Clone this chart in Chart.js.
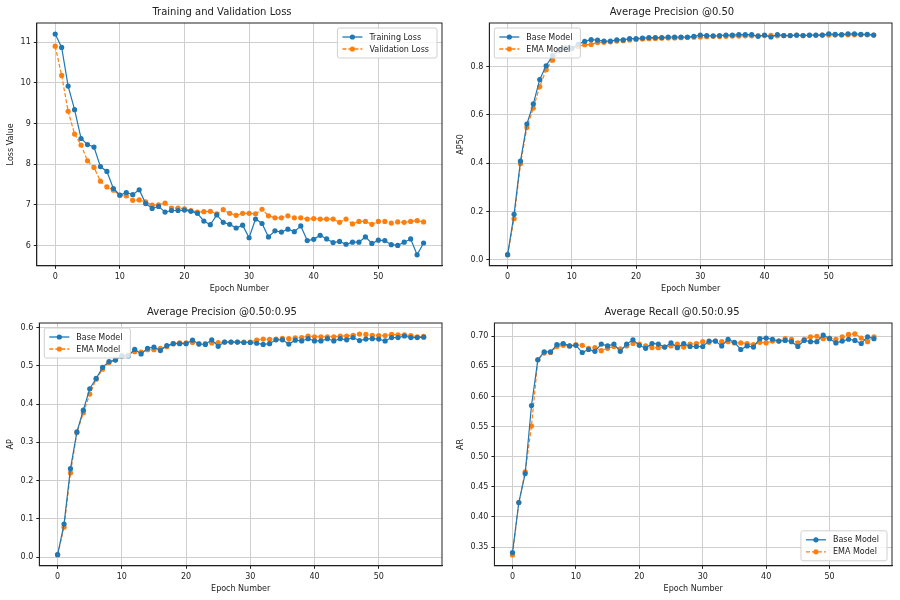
<!DOCTYPE html>
<html>
<head>
<meta charset="utf-8">
<script src="https://cdn.jsdelivr.net/npm/chart.js@4"></script>
<style>
  body { margin: 0; background: #fff; }
  #grid { display: grid; grid-template-columns: 450px 450px; grid-template-rows: 300px 300px; width: 900px; height: 600px; }
  .cell { position: relative; width: 450px; height: 300px; }
</style>
</head>
<body>
<div id="grid">
  <div class="cell"><canvas id="c1"></canvas></div>
  <div class="cell"><canvas id="c2"></canvas></div>
  <div class="cell"><canvas id="c3"></canvas></div>
  <div class="cell"><canvas id="c4"></canvas></div>
</div>
<script>
const epochs = Array.from({ length: 58 }, (_, i) => i);

const trainLoss = [11.2, 10.87, 9.92, 9.34, 8.63, 8.48, 8.42, 7.94, 7.82, 7.40, 7.24, 7.30, 7.25, 7.37, 7.03, 6.91, 6.96, 6.82, 6.86, 6.86,
  6.87, 6.84, 6.79, 6.60, 6.51, 6.75, 6.57, 6.52, 6.43, 6.50, 6.19, 6.65, 6.54, 6.21, 6.36, 6.33, 6.40, 6.34, 6.48, 6.12,
  6.15, 6.25, 6.16, 6.07, 6.10, 6.03, 6.08, 6.08, 6.21, 6.05, 6.13, 6.12, 6.02, 6.00, 6.08, 6.16, 5.77, 6.06];
const valLoss = [10.90, 10.18, 9.30, 8.74, 8.47, 8.08, 7.92, 7.58, 7.44, 7.36, 7.23, 7.22, 7.11, 7.12, 7.07, 6.99, 7.00, 7.04, 6.92, 6.92,
  6.90, 6.86, 6.82, 6.83, 6.84, 6.78, 6.88, 6.79, 6.74, 6.79, 6.79, 6.78, 6.89, 6.73, 6.68, 6.68, 6.73, 6.68, 6.68, 6.65,
  6.66, 6.65, 6.65, 6.65, 6.57, 6.65, 6.53, 6.59, 6.59, 6.52, 6.59, 6.59, 6.55, 6.58, 6.57, 6.59, 6.61, 6.58];

const ap50Base = [0.021, 0.188, 0.408, 0.562, 0.645, 0.746, 0.803, 0.845, 0.868, 0.877, 0.875, 0.892, 0.904, 0.911, 0.909, 0.905, 0.905, 0.910, 0.910, 0.915,
  0.915, 0.918, 0.920, 0.920, 0.920, 0.922, 0.922, 0.922, 0.922, 0.925, 0.930, 0.928, 0.927, 0.928, 0.930, 0.930, 0.932, 0.932, 0.932, 0.925,
  0.930, 0.922, 0.932, 0.928, 0.928, 0.930, 0.928, 0.930, 0.930, 0.930, 0.935, 0.933, 0.932, 0.935, 0.935, 0.933, 0.933, 0.930];
const ap50Ema = [0.021, 0.170, 0.397, 0.547, 0.628, 0.717, 0.787, 0.826, 0.864, 0.875, 0.875, 0.883, 0.890, 0.891, 0.899, 0.900, 0.902, 0.905, 0.907, 0.910,
  0.912, 0.914, 0.915, 0.916, 0.917, 0.918, 0.918, 0.919, 0.920, 0.921, 0.922, 0.923, 0.925, 0.924, 0.925, 0.926, 0.926, 0.927, 0.927, 0.928,
  0.928, 0.929, 0.927, 0.928, 0.928, 0.929, 0.928, 0.929, 0.929, 0.930, 0.930, 0.930, 0.930, 0.931, 0.931, 0.931, 0.931, 0.930];

const apBase = [0.006, 0.086, 0.231, 0.327, 0.384, 0.440, 0.467, 0.496, 0.511, 0.515, 0.526, 0.526, 0.543, 0.531, 0.546, 0.549, 0.540, 0.553, 0.558, 0.558,
  0.558, 0.567, 0.557, 0.556, 0.568, 0.551, 0.562, 0.562, 0.562, 0.561, 0.561, 0.559, 0.556, 0.558, 0.568, 0.568, 0.557, 0.567, 0.565, 0.571,
  0.565, 0.565, 0.571, 0.565, 0.571, 0.568, 0.574, 0.566, 0.570, 0.571, 0.570, 0.565, 0.574, 0.574, 0.578, 0.574, 0.574, 0.575];
const apEma = [0.006, 0.078, 0.220, 0.325, 0.377, 0.426, 0.465, 0.491, 0.509, 0.516, 0.526, 0.528, 0.537, 0.536, 0.542, 0.542, 0.546, 0.550, 0.558, 0.560,
  0.560, 0.561, 0.558, 0.558, 0.560, 0.561, 0.562, 0.562, 0.562, 0.562, 0.562, 0.567, 0.570, 0.569, 0.570, 0.572, 0.571, 0.573, 0.574, 0.578,
  0.576, 0.576, 0.576, 0.576, 0.578, 0.578, 0.580, 0.583, 0.582, 0.580, 0.579, 0.579, 0.582, 0.581, 0.581, 0.579, 0.576, 0.577];

const arBase = [0.341, 0.424, 0.472, 0.585, 0.661, 0.674, 0.674, 0.686, 0.688, 0.684, 0.685, 0.673, 0.678, 0.675, 0.687, 0.684, 0.687, 0.675, 0.687, 0.694,
  0.685, 0.680, 0.688, 0.687, 0.682, 0.689, 0.681, 0.688, 0.683, 0.683, 0.683, 0.692, 0.692, 0.684, 0.695, 0.690, 0.678, 0.684, 0.682, 0.696,
  0.697, 0.695, 0.692, 0.693, 0.691, 0.683, 0.693, 0.691, 0.691, 0.702, 0.696, 0.689, 0.692, 0.695, 0.693, 0.688, 0.699, 0.696];
const arEma = [0.337, 0.424, 0.475, 0.551, 0.661, 0.672, 0.673, 0.683, 0.685, 0.684, 0.686, 0.685, 0.680, 0.681, 0.676, 0.680, 0.683, 0.679, 0.684, 0.688,
  0.687, 0.684, 0.681, 0.681, 0.682, 0.684, 0.687, 0.682, 0.687, 0.688, 0.691, 0.690, 0.692, 0.691, 0.691, 0.689, 0.689, 0.688, 0.686, 0.690,
  0.689, 0.692, 0.692, 0.696, 0.695, 0.689, 0.695, 0.699, 0.700, 0.696, 0.697, 0.695, 0.699, 0.703, 0.704, 0.697, 0.691, 0.699];

const xTicks = [0, 10, 20, 30, 40, 50];
const lossTicks = [6, 7, 8, 9, 10, 11];
const ap50Ticks = [0.0, 0.2, 0.4, 0.6, 0.8];
const apTicks = [0.0, 0.1, 0.2, 0.3, 0.4, 0.5, 0.6];
const arTicks = [0.35, 0.40, 0.45, 0.50, 0.55, 0.60, 0.65, 0.70];

const BLUE = "#1f77b4", ORANGE = "#ff7f0e";
const FONT = "'DejaVu Sans', sans-serif";

// full axes frame + matplotlib style legend inside the plot area
const boxLegend = {
  id: "boxLegend",
  beforeDatasetsDraw(chart) {
    const ctx = chart.ctx, a = chart.chartArea;
    ctx.save();
    ctx.strokeStyle = "#222";
    ctx.lineWidth = 1;
    ctx.strokeRect(a.left, a.top, a.right - a.left, a.bottom - a.top);
    ctx.restore();
  },
  afterDraw(chart, args, opts) {
    const ctx = chart.ctx, a = chart.chartArea;
    const sets = chart.data.datasets;
    ctx.save();
    ctx.font = "8px " + FONT;
    let w = 0;
    sets.forEach(d => { w = Math.max(w, ctx.measureText(d.label).width); });
    const bw = w + 40, bh = sets.length * 12 + 6;
    const x = opts.pos === "tl" ? a.left + 5 : a.right - bw - 5;
    const y = opts.pos === "br" ? a.bottom - bh - 5 : a.top + 5;
    ctx.fillStyle = "rgba(255,255,255,0.8)";
    ctx.strokeStyle = "#d0d0d0";
    ctx.lineWidth = 1;
    ctx.beginPath();
    ctx.roundRect(x, y, bw, bh, 2);
    ctx.fill(); ctx.stroke();
    sets.forEach((d, i) => {
      const cy = y + 9 + i * 12;
      ctx.strokeStyle = d.borderColor;
      ctx.lineWidth = 1.3;
      ctx.setLineDash(d.borderDash || []);
      ctx.beginPath(); ctx.moveTo(x + 5, cy); ctx.lineTo(x + 25, cy); ctx.stroke();
      ctx.setLineDash([]);
      ctx.fillStyle = d.borderColor;
      ctx.beginPath(); ctx.arc(x + 15, cy, 2.6, 0, Math.PI * 2); ctx.fill();
      ctx.fillStyle = "#222";
      ctx.textBaseline = "middle";
      ctx.fillText(d.label, x + 32, cy + 0.5);
    });
    ctx.restore();
  }
};

function series(label, ys, color, dashed) {
  return {
    label: label,
    data: ys.map((v, i) => ({ x: epochs[i], y: v })),
    borderColor: color,
    backgroundColor: color,
    borderWidth: 1.2,
    borderDash: dashed ? [4, 2] : [],
    pointRadius: 2.6,
    pointHoverRadius: 2.6,
    pointBorderWidth: 0,
    tension: 0
  };
}

function makeChart(id, title, yTitle, yMin, yMax, yTicks, decimals, sets, legendPos) {
  new Chart(document.getElementById(id), {
    type: "line",
    data: { datasets: sets },
    options: {
      responsive: true,
      maintainAspectRatio: false,
      animation: false,
      layout: { padding: { left: 2, right: 8, top: 2, bottom: 2 } },
      plugins: {
        legend: { display: false },
        tooltip: { enabled: false },
        title: { display: true, text: title, color: "#222", font: { family: FONT, size: 10, weight: "normal" }, padding: { top: 4, bottom: 5 } },
        boxLegend: { pos: legendPos }
      },
      scales: {
        x: {
          type: "linear", min: -2.85, max: 59.85,
          afterBuildTicks: ax => { ax.ticks = xTicks.map(v => ({ value: v })); },
          ticks: { color: "#222", font: { family: FONT, size: 8 }, maxRotation: 0 },
          grid: { color: "#cfcfcf", drawTicks: true, tickLength: 3, tickColor: "#222" },
          border: { color: "#222" },
          title: { display: true, text: "Epoch Number", color: "#222", font: { family: FONT, size: 8 }, padding: { top: 0 } }
        },
        y: {
          min: yMin, max: yMax,
          afterBuildTicks: ax => { ax.ticks = yTicks.map(v => ({ value: v })); },
          ticks: { color: "#222", font: { family: FONT, size: 8 }, callback: v => v.toFixed(decimals) },
          grid: { color: "#cfcfcf", drawTicks: true, tickLength: 3, tickColor: "#222" },
          border: { color: "#222" },
          title: { display: true, text: yTitle, color: "#222", font: { family: FONT, size: 8 }, padding: { bottom: 2 } }
        }
      }
    },
    plugins: [boxLegend]
  });
}

makeChart("c1", "Training and Validation Loss", "Loss Value", 5.5, 11.47, lossTicks, 0,
  [series("Training Loss", trainLoss, BLUE, false), series("Validation Loss", valLoss, ORANGE, true)], "tr");
makeChart("c2", "Average Precision @0.50", "AP50", -0.025, 0.98, ap50Ticks, 1,
  [series("Base Model", ap50Base, BLUE, false), series("EMA Model", ap50Ema, ORANGE, true)], "tl");
makeChart("c3", "Average Precision @0.50:0.95", "AP", -0.023, 0.612, apTicks, 1,
  [series("Base Model", apBase, BLUE, false), series("EMA Model", apEma, ORANGE, true)], "tl");
makeChart("c4", "Average Recall @0.50:0.95", "AR", 0.319, 0.722, arTicks, 2,
  [series("Base Model", arBase, BLUE, false), series("EMA Model", arEma, ORANGE, true)], "br");
</script>
</body>
</html>
